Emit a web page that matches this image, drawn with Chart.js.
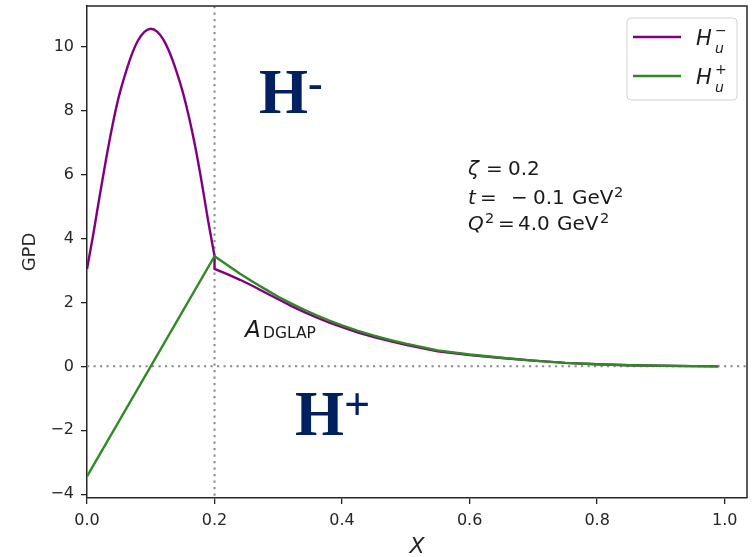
<!DOCTYPE html>
<html>
<head>
<meta charset="utf-8">
<script src="https://cdn.jsdelivr.net/npm/chart.js@4.4.1/dist/chart.umd.min.js"></script>
<style>
  html, body { margin: 0; padding: 0; background: #ffffff; }
  canvas { display: block; }
</style>
</head>
<body>
<canvas id="c" width="754" height="557" style="width:754px;height:557px"></canvas>
<script>
// ---------------- data ----------------
const xTicks = [0, 0.2, 0.4, 0.6, 0.8, 1.0];
const xTickLabels = ['0.0', '0.2', '0.4', '0.6', '0.8', '1.0'];
const yTicks = [-4, -2, 0, 2, 4, 6, 8, 10];
const yTickLabels = ['\u22124', '\u22122', '0', '2', '4', '6', '8', '10'];

// H_u^- in the ERBL region (0 <= x <= zeta)
const xLow = [0, 0.01, 0.02, 0.03, 0.04, 0.05, 0.06, 0.07, 0.08, 0.09, 0.10,
              0.11, 0.12, 0.13, 0.14, 0.15, 0.16, 0.17, 0.18, 0.19, 0.20];
const hMinusLow = [3.05, 4.15, 5.35, 6.50, 7.55, 8.45, 9.15, 9.75, 10.20, 10.47, 10.57,
                   10.48, 10.22, 9.80, 9.25, 8.60, 7.80, 6.85, 5.75, 4.55, 3.45];

// H_u^- in the DGLAP region (x >= zeta), starts with the drop at x = zeta
const xHigh = [0.20, 0.20, 0.22, 0.24, 0.26, 0.28, 0.30, 0.32, 0.34, 0.36, 0.38, 0.40,
               0.425, 0.45, 0.475, 0.50, 0.55, 0.60, 0.65, 0.70, 0.75, 0.80, 0.85, 0.90, 0.95, 0.99];
const hMinusHigh = [3.45, 3.05, 2.89, 2.71, 2.515, 2.305, 2.10, 1.895, 1.705, 1.53, 1.37, 1.225,
                    1.06, 0.915, 0.79, 0.675, 0.475, 0.355, 0.26, 0.18, 0.11, 0.065, 0.035, 0.018, 0.007, 0.00];

// H_u^+
const xPlus = [0, 0.20, 0.22, 0.24, 0.26, 0.28, 0.30, 0.32, 0.34, 0.36, 0.38, 0.40,
               0.425, 0.45, 0.475, 0.50, 0.55, 0.60, 0.65, 0.70, 0.75, 0.80, 0.85, 0.90, 0.95, 0.99];
const hPlus = [-3.44, 3.45, 3.17, 2.90, 2.65, 2.41, 2.18, 1.97, 1.78, 1.60, 1.43, 1.28,
               1.11, 0.96, 0.83, 0.71, 0.50, 0.37, 0.27, 0.18, 0.11, 0.065, 0.035, 0.018, 0.007, 0.00];

const zeta = 0.2;
const xRange = [0, 1.035];
const yRange = [-4.12, 11.28];

// ---------------- styles ----------------
const PURPLE = '#800080';
const GREEN = '#2f8a24';
const AXIS = '#262626';
const NAVY = '#002060';
const FONT = '"DejaVu Sans", sans-serif';

const pts = (xs, ys) => xs.map((x, i) => ({ x: x, y: ys[i] }));

function rich(ctx, x0, y0, parts) {
  ctx.textAlign = 'left';
  ctx.textBaseline = 'alphabetic';
  for (const p of parts) {
    ctx.font = (p.it ? 'italic ' : '') + p.size + 'px ' + (p.family || FONT);
    ctx.fillText(p.t, x0 + p.dx, y0 + (p.dy || 0));
  }
}

const noPad = s => { s.paddingTop = 0; s.paddingBottom = 0; s.paddingLeft = 0; s.paddingRight = 0; };

const decor = {
  id: 'decor',
  beforeDatasetsDraw(chart) {
    const { ctx, chartArea: a, scales: { x, y } } = chart;
    ctx.save();
    ctx.strokeStyle = '#8a8a8a';
    ctx.lineWidth = 2;
    ctx.setLineDash([2.2, 4.3]);
    const px = x.getPixelForValue(zeta);
    ctx.beginPath(); ctx.moveTo(px, a.top); ctx.lineTo(px, a.bottom); ctx.stroke();
    const py = y.getPixelForValue(0);
    ctx.beginPath(); ctx.moveTo(a.left, py); ctx.lineTo(a.right, py); ctx.stroke();
    ctx.restore();
  },
  afterDraw(chart) {
    const { ctx, chartArea: a } = chart;
    ctx.save();
    // top & right spines
    ctx.strokeStyle = AXIS;
    ctx.lineWidth = 1.5;
    ctx.beginPath();
    ctx.moveTo(a.left, a.top); ctx.lineTo(a.right, a.top); ctx.lineTo(a.right, a.bottom);
    ctx.stroke();

    // legend
    const lx = 627, ly = 18, lw = 110, lh = 82;
    ctx.beginPath();
    ctx.roundRect(lx, ly, lw, lh, 4);
    ctx.fillStyle = 'rgba(255,255,255,0.85)';
    ctx.fill();
    ctx.strokeStyle = '#d2d2d2';
    ctx.lineWidth = 1;
    ctx.stroke();
    const items = [
      { color: PURPLE, sy: 37, sign: '\u2212' },
      { color: GREEN, sy: 76, sign: '+' }
    ];
    items.forEach(it => {
      ctx.strokeStyle = it.color;
      ctx.lineWidth = 2.5;
      ctx.beginPath(); ctx.moveTo(633, it.sy); ctx.lineTo(681, it.sy); ctx.stroke();
      ctx.fillStyle = '#1a1a1a';
      rich(ctx, 696, it.sy + 8, [
        { t: 'H', it: true, size: 21, dx: 0 },
        { t: 'u', it: true, size: 14, dx: 19, dy: 8 },
        { t: it.sign, size: 14, dx: 19, dy: -10 }
      ]);
    });

    // parameter annotation
    ctx.fillStyle = '#1a1a1a';
    const ax = 468;
    rich(ctx, ax, 175, [
      { t: '\u03B6', it: true, size: 20, dx: 0 },
      { t: '=', size: 20, dx: 18 },
      { t: '0.2', size: 20, dx: 40 }
    ]);
    rich(ctx, ax, 204, [
      { t: 't', it: true, size: 20, dx: 0 },
      { t: '=', size: 20, dx: 12 },
      { t: '\u2212', size: 20, dx: 43 },
      { t: '0.1', size: 20, dx: 65 },
      { t: 'GeV', size: 20, dx: 104 },
      { t: '2', size: 14.5, dx: 146, dy: -7 }
    ]);
    rich(ctx, ax, 230, [
      { t: 'Q', it: true, size: 20, dx: 0 },
      { t: '2', size: 14.5, dx: 17, dy: -7 },
      { t: '=', size: 20, dx: 30 },
      { t: '4.0', size: 20, dx: 50 },
      { t: 'GeV', size: 20, dx: 89 },
      { t: '2', size: 14.5, dx: 132, dy: -7 }
    ]);

    // A_DGLAP
    rich(ctx, 245, 337, [
      { t: 'A', it: true, size: 23, dx: 0 },
      { t: 'DGLAP', size: 15.5, dx: 18, dy: 1 }
    ]);

    // H- / H+ labels
    ctx.fillStyle = NAVY;
    ctx.font = 'bold 63px "Liberation Serif", serif';
    ctx.fillText('H', 259, 113);
    ctx.fillText('H', 295, 435);
    ctx.font = 'bold 44px "Liberation Serif", serif';
    ctx.fillText('-', 308, 98);
    ctx.font = 'bold 46px "Liberation Serif", serif';
    ctx.fillText('+', 344, 420);
    ctx.restore();
  }
};

new Chart(document.getElementById('c'), {
  type: 'line',
  data: {
    datasets: [
      { label: 'H_u^+', data: pts(xPlus, hPlus), borderColor: GREEN, borderWidth: 2.4,
        pointRadius: 0, tension: 0, fill: false, order: 0 },
      { label: 'H_u^-', data: pts(xLow, hMinusLow), borderColor: PURPLE, borderWidth: 2.4,
        pointRadius: 0, cubicInterpolationMode: 'monotone', fill: false, order: 1 },
      { label: 'H_u^- (DGLAP)', data: pts(xHigh, hMinusHigh), borderColor: PURPLE, borderWidth: 2.4,
        pointRadius: 0, tension: 0, fill: false, order: 2 }
    ]
  },
  options: {
    responsive: false,
    animation: false,
    devicePixelRatio: 1,
    layout: { padding: { left: 0, right: 7, top: 6, bottom: 0 } },
    plugins: { legend: { display: false }, tooltip: { enabled: false } },
    scales: {
      x: {
        type: 'linear', min: xRange[0], max: xRange[1],
        afterBuildTicks: s => { s.ticks = xTicks.map(v => ({ value: v })); },
        afterFit: s => { s.height = 59; noPad(s); },
        ticks: { callback: (v, i) => xTickLabels[i], font: { family: FONT, size: 16 }, color: AXIS,
                 padding: 7, maxRotation: 0, autoSkip: false },
        grid: { drawOnChartArea: false, drawTicks: true, tickLength: 6, color: AXIS, lineWidth: 1.3 },
        border: { color: AXIS, width: 1.5 },
        title: { display: true, text: 'X', font: { family: FONT, size: 22, style: 'italic' }, color: AXIS,
                 padding: { top: 0, bottom: -3 } }
      },
      y: {
        type: 'linear', min: yRange[0], max: yRange[1],
        afterBuildTicks: s => { s.ticks = yTicks.map(v => ({ value: v })); },
        afterFit: s => { s.width = 87; noPad(s); },
        ticks: { callback: (v, i) => yTickLabels[i], font: { family: FONT, size: 16 }, color: AXIS,
                 padding: 7, autoSkip: false },
        grid: { drawOnChartArea: false, drawTicks: true, tickLength: 6, color: AXIS, lineWidth: 1.3 },
        border: { color: AXIS, width: 1.5 },
        title: { display: true, text: 'GPD', font: { family: FONT, size: 18 }, color: AXIS,
                 padding: { top: 20, bottom: 0 } }
      }
    }
  },
  plugins: [decor]
});
</script>
</body>
</html>
